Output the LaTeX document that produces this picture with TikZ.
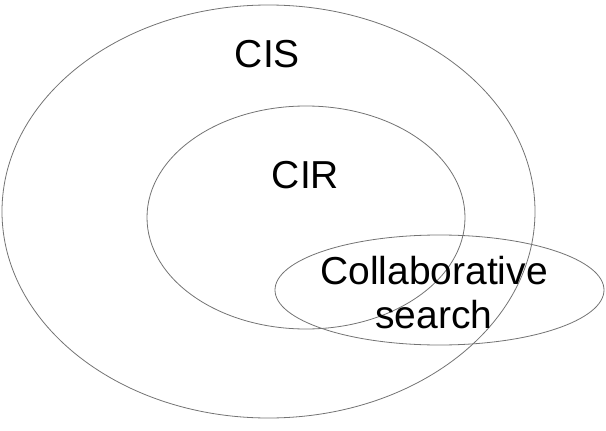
\documentclass[tikz,border=0pt]{standalone}
\usepackage{fontspec}
\setmainfont{Liberation Sans}
\begin{document}
\begin{tikzpicture}[x=1pt,y=-1pt,
    setline/.style={draw=black!55, line width=0.8pt},
    setlabel/.style={font=\fontsize{39}{44}\selectfont, inner sep=0pt, align=center}]
        % Fix the page size
        \useasboundingbox (0,0) rectangle (606,431);

        % The three sets
        \draw[setline] (268.5,211.5) ellipse [x radius=266.5, y radius=206.5];
        \draw[setline] (306,217.5) ellipse [x radius=159, y radius=111.5];
        \draw[setline] (439.5,290) ellipse [x radius=164.5, y radius=55];

        % Set names
        \node[setlabel, anchor=base] (CIS) at (267.5,67) {CIS};
        \node[setlabel, anchor=base] (CIR) at (305.5,188) {CIR};
        \node[setlabel] (Collab) at (434,293) {Collaborative\\search};
      \end{tikzpicture}
\end{document}
